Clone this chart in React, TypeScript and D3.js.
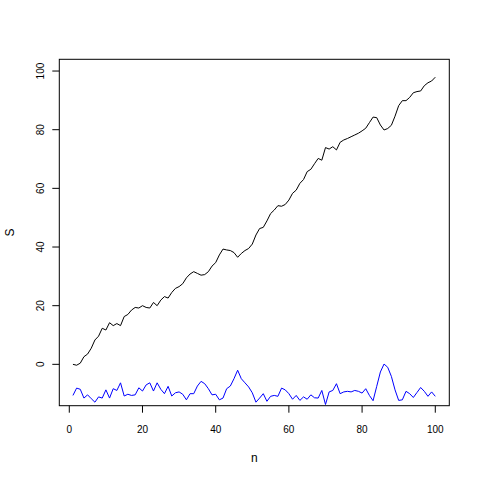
import React from 'react';
import * as d3 from 'd3';

// n = 1..100
const sValues = [
  0, -0.3, 0.4, 2.6, 3.5, 5.5, 8.3, 9.6, 12.3, 11.7,
  14.2, 13.2, 13.9, 13.2, 16.3, 17.0, 18.5, 19.4, 19.2, 20.0,
  19.4, 19.2, 21.1, 20.0, 21.9, 23.1, 22.6, 24.5, 25.9, 26.5,
  27.5, 29.5, 30.8, 31.6, 31.0, 30.4, 30.6, 31.6, 33.5, 34.7,
  37.3, 39.3, 39.0, 38.8, 38.1, 36.5, 37.8, 38.8, 39.5, 41.0,
  44.1, 46.3, 46.7, 48.9, 51.4, 52.6, 54.1, 53.9, 54.5, 56.0,
  58.3, 59.4, 61.7, 63.0, 65.7, 66.5, 68.4, 70.2, 69.6, 73.9,
  73.4, 74.2, 73.1, 75.7, 76.5, 77.0, 77.6, 78.2, 78.8, 79.6,
  80.5, 82.4, 84.3, 84.1, 81.6, 79.9, 80.4, 81.5, 84.6, 88.2,
  89.9, 89.9, 91.0, 92.6, 93.0, 93.2, 95.0, 96.0, 96.6, 97.9,
];

const blueValues = [
  -10.6, -8.1, -8.5, -11.5, -10.4, -11.7, -12.9, -11.1, -11.5, -8.7,
  -11.5, -8.3, -8.9, -6.3, -10.8, -10.2, -10.6, -10.4, -8.0, -9.1,
  -7.0, -6.3, -9.1, -6.3, -8.5, -10.0, -7.5, -10.8, -9.7, -9.4,
  -10.2, -12.1, -10.0, -10.0, -7.4, -5.8, -6.6, -8.3, -10.4, -10.2,
  -12.1, -11.5, -8.3, -7.4, -4.9, -2.0, -4.9, -6.3, -7.7, -9.7,
  -12.9, -11.5, -10.0, -12.6, -10.9, -10.6, -10.9, -8.1, -8.7, -10.0,
  -11.9, -10.6, -12.3, -11.1, -11.9, -10.4, -11.4, -11.5, -8.9, -13.7,
  -9.4, -8.9, -6.6, -10.0, -9.4, -9.2, -9.4, -8.9, -9.2, -9.8,
  -8.3, -10.6, -12.4, -7.5, -2.6, 0.1, -1.0, -4.1, -8.7, -12.3,
  -12.1, -9.2, -10.0, -11.3, -9.6, -7.9, -9.2, -10.9, -9.4, -10.9,
];

const xTicks = [0, 20, 40, 60, 80, 100];
const yTicks = [0, 20, 40, 60, 80, 100];

const W = 480;
const H = 480;

const App = () => {
  const x = d3.scaleLinear().domain([-2.73, 103.83]).range([59.3, 449.3]);
  const y = d3.scaleLinear().domain([-14.1, 104]).range([405.7, 59.3]);

  const line = d3
    .line<number>()
    .x((d, i) => x(i + 1))
    .y((d) => y(d));

  const [x0, x1] = x.range();
  const [yb, yt] = y.range();
  const font = 'Liberation Sans, Arial, sans-serif';

  return (
    <div style={{ position: 'fixed', left: 0, top: 0 }}>
      <svg width={W} height={H} style={{ display: 'block', background: '#fff' }}>
        <rect width={W} height={H} fill="#fff" />
        <path d={line(sValues) ?? ''} fill="none" stroke="#000" strokeWidth={1} />
        <path d={line(blueValues) ?? ''} fill="none" stroke="#0000ff" strokeWidth={1} />

        {/* box */}
        <rect x={x0} y={yt} width={x1 - x0} height={yb - yt} fill="none" stroke="#000" strokeWidth={1} />

        {/* axes */}
        <g fontFamily={font} fontSize={10} fill="#000">
          {xTicks.map((t) => (
            <line key={t} x1={x(t)} x2={x(t)} y1={yb} y2={yb + 7} stroke="#000" />
          ))}
          {xTicks.map((t) => (
            <text key={'l' + t} x={x(t)} y={yb + 27} textAnchor="middle">
              {t}
            </text>
          ))}
          {yTicks.map((t) => (
            <line key={'y' + t} x1={x0 - 7} x2={x0} y1={y(t)} y2={y(t)} stroke="#000" />
          ))}
          {yTicks.map((t) => (
            <text
              key={'yl' + t}
              transform={`translate(${x0 - 15},${y(t)}) rotate(-90)`}
              textAnchor="middle"
            >
              {t}
            </text>
          ))}
        </g>
        <text x={(x0 + x1) / 2} y={462} textAnchor="middle" fontFamily={font} fontSize={12}>
          n
        </text>
        <text
          transform={`translate(14,${(yt + yb) / 2}) rotate(-90)`}
          textAnchor="middle"
          fontFamily={font}
          fontSize={12}
        >
          S
        </text>
      </svg>
    </div>
  );
};

export default App;
